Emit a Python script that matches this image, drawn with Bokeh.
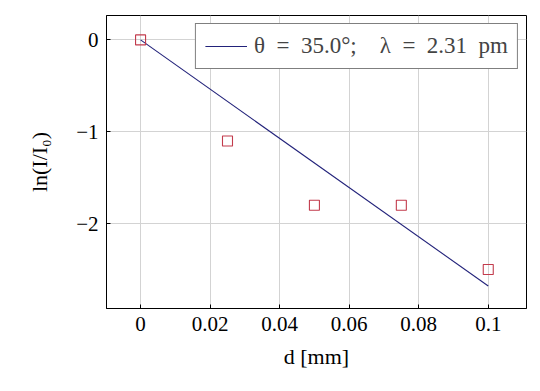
from bokeh.plotting import figure
from bokeh.models import FixedTicker, Range1d, Legend, LegendItem
from bokeh.embed import file_html
from bokeh.resources import INLINE

# data
d_mm = [0.0, 0.025, 0.05, 0.075, 0.1]
ln_ratio = [0.0, -1.1, -1.8, -1.8, -2.5]
fit_d = [0.0, 0.1]
fit_ln = [0.0, -2.68]
x_ticks = [0.0, 0.02, 0.04, 0.06, 0.08, 0.1]
x_tick_labels = ["0", "0.02", "0.04", "0.06", "0.08", "0.1"]
y_ticks = [0, -1, -2]
y_tick_labels = ["0", "\u22121", "\u22122"]
legend_label = "\u03b8\u2002=\u200235.0\u00b0;\u2003\u03bb\u2002=\u20022.31\u2002pm"

FONT = "Liberation Serif"

p = figure(width=540, height=391, output_backend="svg", toolbar_location=None,
           x_range=Range1d(-0.0098, 0.111), y_range=Range1d(-2.925, 0.266),
           min_border_left=106, min_border_top=15, min_border_right=14, min_border_bottom=83)
p.outline_line_color = "black"
p.outline_line_width = 1
p.background_fill_color = "white"
p.border_fill_color = "white"

line_r = p.line(fit_d, fit_ln, line_color="#22227a", line_width=1.1)
p.scatter(d_mm, ln_ratio, marker="square", size=10, fill_color=None,
          line_color="#c23b4c", line_width=1.1)

for ax in (p.xaxis[0], p.yaxis[0]):
    ax.major_tick_in = 4
    ax.major_tick_out = 0
    ax.minor_tick_line_color = None
    ax.axis_line_color = "black"
    ax.major_label_text_font = FONT
    ax.major_label_text_font_size = "21px"
    ax.major_label_text_color = "black"
    ax.axis_label_text_font = FONT
    ax.axis_label_text_font_size = "22px"
    ax.axis_label_text_font_style = "normal"
    ax.axis_label_text_color = "black"

p.xaxis.ticker = FixedTicker(ticks=x_ticks)
p.xaxis.major_label_overrides = {t: l for t, l in zip(x_ticks, x_tick_labels)}
p.yaxis.ticker = FixedTicker(ticks=y_ticks)
p.yaxis.major_label_overrides = {t: l for t, l in zip(y_ticks, y_tick_labels)}
p.xaxis.axis_label = "d [mm]"
p.yaxis.axis_label = "ln(I/I\u2080)"
p.xaxis.major_label_standoff = 8
p.yaxis.major_label_standoff = 8
p.xaxis.axis_label_standoff = 10
p.yaxis.axis_label_standoff = 21

p.xgrid.ticker = FixedTicker(ticks=x_ticks)
p.ygrid.ticker = FixedTicker(ticks=y_ticks)
p.grid.grid_line_color = "#d3d3d3"
p.grid.grid_line_width = 1

legend = Legend(items=[LegendItem(label=legend_label, renderers=[line_r])],
                location="top_right", margin=8, padding=9,
                glyph_width=42, label_standoff=7, spacing=0,
                label_text_font=FONT, label_text_font_size="23px",
                border_line_color="black", border_line_width=1,
                background_fill_alpha=1.0)
p.add_layout(legend)

with open("out.html", "w") as f:
    f.write(file_html(p, INLINE))
